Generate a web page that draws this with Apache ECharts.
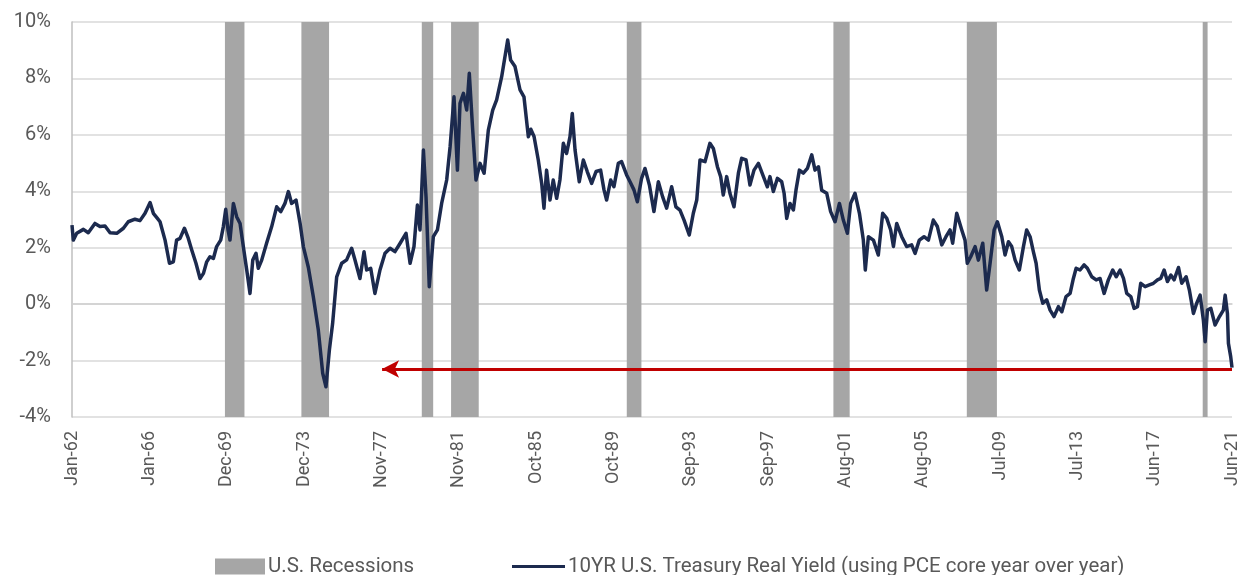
<!DOCTYPE html>
<html>
<head>
<meta charset="utf-8">
<title>10YR U.S. Treasury Real Yield</title>
<script src="https://cdn.jsdelivr.net/npm/echarts@6/dist/echarts.min.js"></script>
<style>
  html, body { margin: 0; padding: 0; background: #ffffff; }
  #chart { width: 1243px; height: 575px; }
</style>
</head>
<body>
<div id="chart"></div>
<script>
// Horizontal position is the month count since Jan-62 (0 = Jan-62, 713 = Jun-21).
const SPAN = 713;

// Category labels, evenly spaced across the span
const tickLabels = ['Jan-62', 'Jan-66', 'Dec-69', 'Dec-73', 'Nov-77', 'Nov-81', 'Oct-85', 'Oct-89',
  'Sep-93', 'Sep-97', 'Aug-01', 'Aug-05', 'Jul-09', 'Jul-13', 'Jun-17', 'Jun-21'];

// Recession bands (start / end month)
const recessionStart = [94, 141, 215, 233, 341, 468, 550, 695];
const recessionEnd   = [106, 158, 222, 250, 350, 478, 568.5, 698];

// 10YR real yield (%) by month index
const months = [
  0, 0.8, 2.9, 7.0, 10, 14.1, 17.2, 20.3, 23.4, 27.5, 31.6, 34.6, 38.7, 41.8, 44.9, 48, 50, 52.5, 54.1, 57.2,
  59.9, 62.3, 64.3, 66.4, 69.1, 71.5, 73.6, 76.2, 78.7, 80.8, 82.8, 84.8, 86.9, 88.9, 91.4, 93.0, 94.5, 95.9, 97.1, 99.2,
  101.2, 103.3, 105.3, 107.4, 109.4, 111.1, 113.1, 114.5, 116.6, 119.6, 122.7, 125.8, 128.3, 130.9, 133, 135, 137.7, 140.2, 142.2, 145.3,
  148.3, 151.4, 154.1, 156.1, 158.2, 160.2, 162.7, 165.8, 168.8, 171.9, 173.9, 177.0, 179.5, 181.1, 183.6, 186.2, 189.3, 192.4, 195.5, 198.5,
  201.6, 205.3, 207.8, 210.2, 212.3, 213.9, 216, 217.6, 219.6, 222.1, 224.6, 227.2, 230.3, 232.4, 234.8, 236.9, 238.5, 240.6, 242.6, 244.2,
  246.3, 248.3, 250.8, 253.3, 255.9, 258.6, 261, 264.1, 266.8, 267.8, 269.6, 272.3, 275.4, 277.8, 280.5, 282, 284, 286.6, 288.7, 290.1,
  291.7, 293.8, 295.8, 297.9, 299.9, 302, 304, 306.1, 307.5, 309.2, 311.8, 314.3, 316.7, 319.4, 322.1, 324.9, 327, 328.6, 331.1, 333.1,
  335.8, 337.8, 340.9, 343, 345.4, 347.5, 350.1, 352.2, 354.9, 357.7, 360.4, 363, 365.5, 368.6, 371.2, 373.7, 376.2, 379.4, 381.9, 384,
  386, 389.1, 392.1, 394.2, 396.7, 398.7, 400.3, 402.4, 404.4, 406.9, 409.6, 411.6, 414.3, 416.7, 419.2, 421.9, 425, 427.4, 429, 431.1,
  433.6, 436.2, 437.7, 439.3, 441.3, 443.4, 445, 447.1, 449.5, 452, 454.7, 456.7, 458.8, 460.8, 463.9, 466.3, 469, 471.7, 474.1, 476.6,
  478.6, 481.3, 484, 486.4, 487.6, 489.5, 492.6, 495.6, 498.3, 500.8, 503.2, 504.9, 506.9, 510, 513, 516.1, 518.2, 520.8, 523.7, 526.4,
  529.4, 531.9, 534.6, 537.2, 539.7, 541.3, 543.8, 546.9, 548.9, 550.3, 552.4, 555.1, 557.1, 559.8, 562.2, 564.3, 566.8, 568.8, 571.5, 573.5,
  575.6, 577.6, 579.7, 582.3, 584.8, 586.8, 588.9, 590.9, 592.6, 594.6, 596.7, 599.1, 601.2, 603.6, 606.3, 608.4, 611, 613.5, 615.5, 617.2,
  619.6, 622.1, 624.1, 626.8, 629.5, 631.9, 634.4, 637, 639.7, 641.8, 644.2, 646.3, 648.3, 650.8, 652.8, 654.9, 656.9, 659.6, 662.2, 664.7,
  667.2, 669.2, 671.3, 673.3, 675.4, 677.4, 680.1, 682.1, 684.8, 686.8, 689.3, 691.3, 693.4, 695.4, 696.5, 697.9, 700, 702.6, 705.3, 707.7,
  708.8, 710.2, 710.8, 712.2, 713
];
const yields = [
  2.8, 2.27, 2.51, 2.65, 2.53, 2.86, 2.75, 2.77, 2.53, 2.51, 2.69, 2.92, 3.01, 2.96, 3.22, 3.6, 3.22, 3.04, 2.92, 2.27,
  1.45, 1.5, 2.27, 2.33, 2.69, 2.33, 1.92, 1.45, 0.91, 1.09, 1.5, 1.68, 1.62, 2.04, 2.27, 2.74, 3.36, 2.63, 2.27, 3.57,
  3.10, 2.86, 2.04, 1.21, 0.38, 1.56, 1.8, 1.27, 1.56, 2.16, 2.74, 3.45, 3.28, 3.57, 3.99, 3.57, 3.69, 2.86, 2.04, 1.3,
  0.27, -0.92, -2.45, -2.93, -1.63, -0.68, 0.97, 1.45, 1.57, 1.98, 1.57, 0.91, 1.86, 1.21, 1.27, 0.38, 1.21, 1.8, 1.98, 1.86,
  2.15, 2.51, 1.45, 2.04, 3.51, 2.63, 5.46, 3.81, 0.62, 2.39, 2.63, 3.57, 4.4, 5.58, 7.35, 4.75, 7.12, 7.47, 6.88, 8.18,
  6.17, 4.4, 4.99, 4.64, 6.17, 6.88, 7.24, 8.06, 9.01, 9.36, 8.65, 8.42, 7.59, 7.35, 5.93, 6.2, 5.94, 5.11, 4.28, 3.4,
  4.75, 3.69, 4.4, 3.75, 4.4, 5.7, 5.34, 5.94, 6.76, 5.46, 4.34, 5.11, 4.7, 4.28, 4.7, 4.75, 4.05, 3.69, 4.4, 4.16,
  4.99, 5.05, 4.58, 4.34, 4.05, 3.63, 4.46, 4.81, 4.22, 3.28, 4.34, 3.81, 3.4, 4.16, 3.45, 3.33, 2.98, 2.45, 3.22, 3.69,
  5.11, 5.05, 5.7, 5.52, 4.87, 4.52, 3.87, 4.52, 3.93, 3.45, 4.64, 5.17, 5.11, 4.22, 4.75, 4.99, 4.52, 4.16, 4.52, 3.99,
  4.46, 4.34, 3.93, 3.04, 3.57, 3.34, 4.04, 4.75, 4.64, 4.81, 5.29, 4.75, 4.87, 4.04, 3.93, 3.28, 2.92, 3.57, 2.98, 2.51,
  3.57, 3.93, 3.22, 2.27, 1.21, 2.39, 2.27, 1.74, 3.22, 3.04, 2.63, 2.04, 2.86, 2.39, 2.04, 2.1, 1.8, 2.27, 2.39, 2.27,
  2.98, 2.75, 2.1, 2.39, 2.63, 2.16, 3.22, 2.63, 2.27, 1.45, 1.68, 2.04, 1.56, 2.16, 0.5, 1.45, 2.63, 2.92, 2.39, 1.74,
  2.21, 2.04, 1.56, 1.21, 2.04, 2.63, 2.39, 1.86, 1.45, 0.5, 0.03, 0.15, -0.21, -0.44, -0.09, -0.27, 0.27, 0.38, 0.91, 1.27,
  1.21, 1.39, 1.27, 0.97, 0.86, 0.91, 0.38, 0.86, 1.21, 0.97, 1.21, 0.91, 0.38, 0.27, -0.15, -0.09, 0.74, 0.62, 0.68, 0.74,
  0.86, 0.91, 1.21, 0.8, 1.03, 0.86, 1.3, 0.74, 0.97, 0.5, -0.33, 0.03, 0.32, -0.56, -1.33, -0.21, -0.15, -0.74, -0.44, -0.21,
  0.32, -0.33, -1.39, -1.86, -2.25
];

// Red arrow: level reached today, drawn back to the 1970s lows
const arrowLevel = -2.3;
const arrowFrom = 190.6;
const arrowTo = SPAN;

const Y_MIN = -4, Y_MAX = 10;
const FONT = 'Roboto, "Liberation Sans", Arial, sans-serif';
const TEXT = '#595959';
const NAVY = '#1c2a4e';
const GREY = '#a6a6a6';

const tickStep = SPAN / (tickLabels.length - 1);
const tickValues = tickLabels.map((_, k) => k * tickStep);
const yieldData = months.map((m, i) => [m, yields[i]]);
const recessionData = recessionStart.map((s, i) => [s, recessionEnd[i]]);

const chart = echarts.init(document.getElementById('chart'), null, { renderer: 'canvas' });
chart.setOption({
  animation: false,
  backgroundColor: '#ffffff',
  textStyle: { fontFamily: FONT },
  grid: { left: 72, right: 11, top: 22, bottom: 158, containLabel: false },
  legend: [
    {
      data: ['U.S. Recessions'],
      left: 215, top: 556, padding: 0,
      icon: 'rect', itemWidth: 50, itemHeight: 16, itemGap: 5,
      textStyle: { color: TEXT, fontSize: 20.5, fontFamily: FONT, padding: [0, 0, 0, -2] },
      selectedMode: false
    },
    {
      data: ['10YR U.S. Treasury Real Yield (using PCE core year over year)'],
      left: 512, top: 556, padding: 0,
      icon: 'rect', itemWidth: 53, itemHeight: 3,
      textStyle: { color: TEXT, fontSize: 20.5, fontFamily: FONT, padding: [0, 0, 0, -2] },
      selectedMode: false
    }
  ],
  xAxis: {
    type: 'value',
    min: 0,
    max: SPAN,
    axisLine: { show: true, lineStyle: { color: '#d0d0d0', width: 1.5 } },
    axisTick: { show: false },
    splitLine: { show: false },
    axisLabel: {
      customValues: tickValues,
      rotate: 90,
      margin: 14,
      color: TEXT,
      fontSize: 18,
      fontFamily: FONT,
      formatter: (v) => tickLabels[Math.round(v / tickStep)]
    }
  },
  yAxis: {
    type: 'value',
    min: Y_MIN,
    max: Y_MAX,
    interval: 2,
    axisLine: { show: true, lineStyle: { color: '#bfbfbf', width: 1.5 } },
    axisTick: { show: false },
    splitLine: { show: true, lineStyle: { color: '#d9d9d9', width: 1.5 } },
    axisLabel: {
      formatter: '{value}%',
      margin: 21,
      color: TEXT,
      fontSize: 20,
      fontFamily: FONT
    }
  },
  series: [
    {
      name: 'U.S. Recessions',
      type: 'custom',
      z: 1,
      itemStyle: { color: GREY },
      data: recessionData,
      renderItem: (params, api) => {
        const p0 = api.coord([api.value(0), Y_MAX]);
        const p1 = api.coord([api.value(1), Y_MIN]);
        return {
          type: 'rect',
          shape: { x: p0[0], y: p0[1], width: p1[0] - p0[0], height: p1[1] - p0[1] },
          style: { fill: GREY }
        };
      },
      silent: true
    },
    {
      name: '10YR U.S. Treasury Real Yield (using PCE core year over year)',
      type: 'line',
      z: 3,
      color: NAVY,
      showSymbol: false,
      symbol: 'none',
      lineStyle: { color: NAVY, width: 3.5, join: 'round' },
      itemStyle: { color: NAVY },
      data: yieldData,
      silent: true,
      markLine: {
        silent: true,
        symbol: ['arrow', 'none'],
        symbolSize: [13, 17],
        label: { show: false },
        lineStyle: { color: '#c00000', width: 3, type: 'solid' },
        itemStyle: { color: '#c00000' },
        data: [[{ coord: [arrowFrom, arrowLevel] }, { coord: [arrowTo, arrowLevel] }]]
      }
    }
  ]
});
</script>
</body>
</html>
